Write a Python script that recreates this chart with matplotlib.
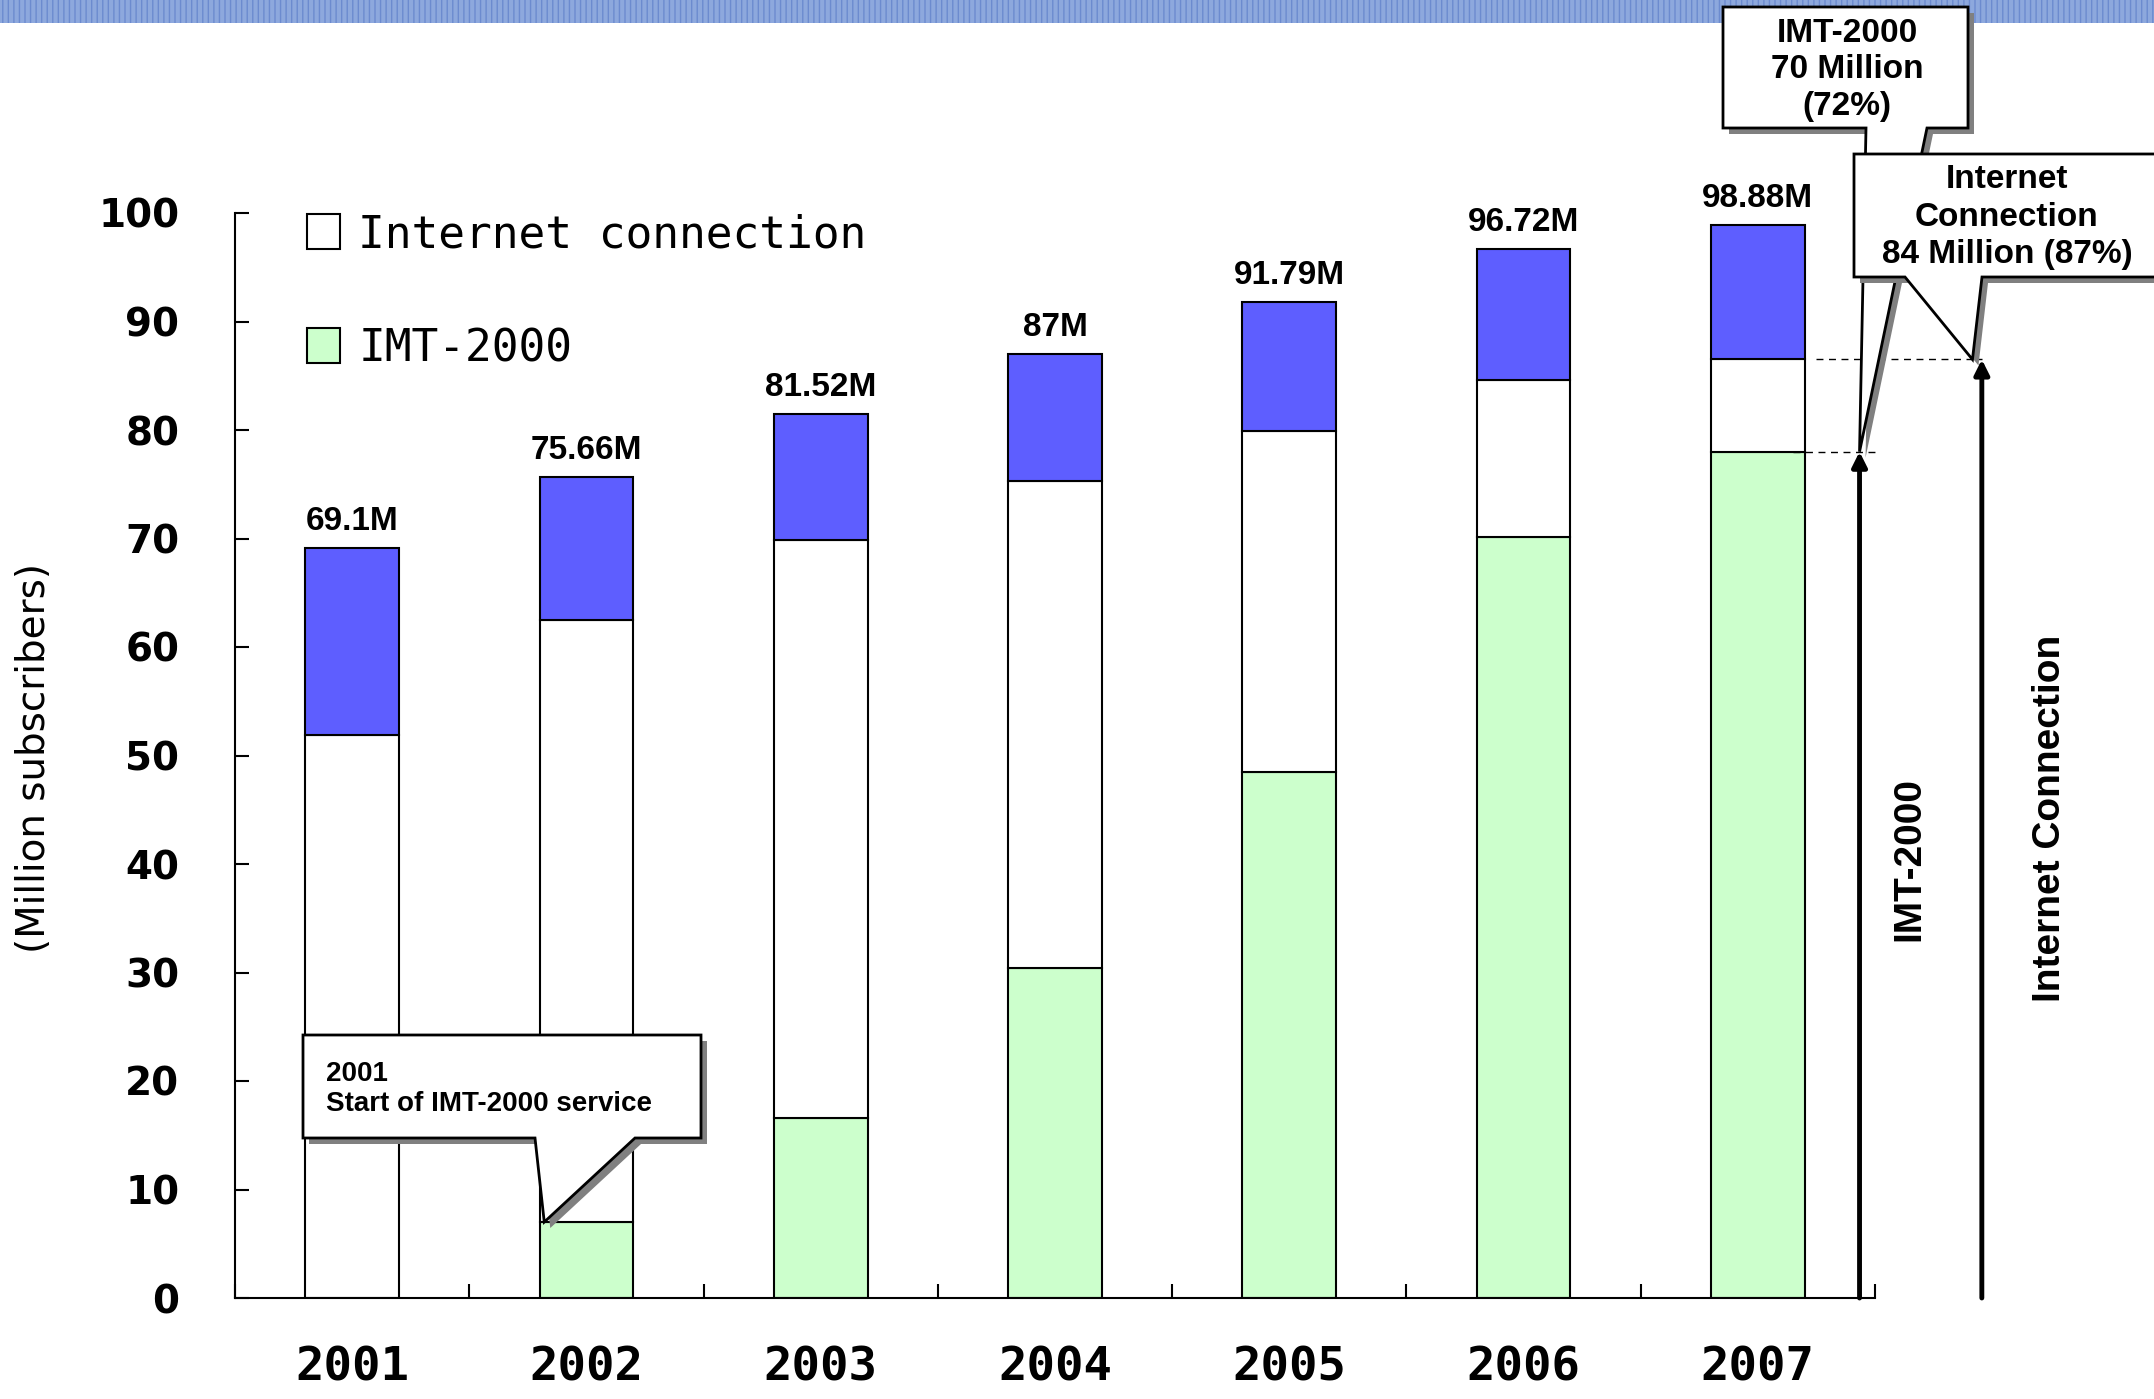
import numpy as np
import matplotlib.pyplot as plt
from matplotlib.patches import Rectangle, Polygon

# data (million subscribers)
years = ['2001', '2002', '2003', '2004', '2005', '2006', '2007']
total = [69.1, 75.66, 81.52, 87.0, 91.79, 96.72, 98.88]
internet = [51.9, 62.5, 69.9, 75.3, 79.9, 84.6, 86.5]
imt = [0.0, 7.0, 16.6, 30.4, 48.5, 70.1, 78.0]
total_labels = ['69.1M', '75.66M', '81.52M', '87M', '91.79M', '96.72M', '98.88M']

W, H = 2154, 1399
ARIAL = ['Liberation Sans', 'DejaVu Sans']


def fx(px):
    return px / W


def fy(py):
    return 1 - py / H


fig = plt.figure(figsize=(W / 100, H / 100), dpi=100)
ax = fig.add_axes([fx(235), fy(1298), 1640 / W, 1085 / H])

# banner strip at the top
fig.add_artist(Rectangle((0, fy(23)), 1, 23 / H, transform=fig.transFigure,
                         fc='#8DA8DD', ec='#6C8BCF', lw=0, hatch='|||', zorder=0))

x = np.arange(len(years))
imt_a = np.array(imt)
net_a = np.array(internet)
tot_a = np.array(total)
bw = 0.4

b_imt = ax.bar(x, imt_a, bw, color='#CCFFCC', edgecolor='black', lw=1.5)
b_net = ax.bar(x, net_a - imt_a, bw, bottom=imt_a, color='white', edgecolor='black', lw=1.5)
b_oth = ax.bar(x, tot_a - net_a, bw, bottom=net_a, color='#5E5EFF', edgecolor='black', lw=1.5)

for xi, t, lab in zip(x, total, total_labels):
    ax.text(xi, t + 1.0, lab, ha='center', va='bottom', fontsize=24,
            fontweight='bold', family=ARIAL)

ax.set_xlim(-0.5, 6.5)
ax.set_ylim(0, 100)

# axes look
for s in ['top', 'right']:
    ax.spines[s].set_visible(False)
for s in ['left', 'bottom']:
    ax.spines[s].set_linewidth(1.5)

ax.set_yticks(range(0, 101, 10))
ax.tick_params(axis='y', direction='in', length=10, width=1.5, pad=40, labelsize=28)
for lab in ax.get_yticklabels():
    lab.set_fontweight('bold')

ax.set_xticks(np.arange(-0.5, 7, 1))
ax.set_xticklabels([])
ax.set_xticks(x, minor=True)
ax.set_xticklabels(years, minor=True, fontsize=34, fontweight='bold', family='DejaVu Sans Mono')
ax.tick_params(axis='x', which='major', direction='in', length=10, width=1.5)
ax.tick_params(axis='x', which='minor', length=0, pad=34)

fig.text(fx(34), fy(758), '(Million subscribers)', rotation=90, ha='center', va='center',
         fontsize=28, family='DejaVu Sans')

ax.legend([b_net, b_imt], ['Internet connection', 'IMT-2000'], loc='upper left',
          bbox_to_anchor=(0.044, 1.0), frameon=False,
          prop={'family': 'DejaVu Sans Mono', 'size': 32},
          handlelength=0.75, handleheight=0.85, handletextpad=0.4,
          labelspacing=1.6, borderaxespad=0, borderpad=0)

# arrows and dashed guides on the right
x_imt = 6.434
x_net = 6.956
ax.annotate('', xy=(x_imt, imt[6]), xytext=(x_imt, 0), annotation_clip=False,
            arrowprops=dict(arrowstyle='-|>', lw=3.5, color='black', mutation_scale=22,
                            shrinkA=0, shrinkB=0))
ax.annotate('', xy=(x_net, internet[6]), xytext=(x_net, 0), annotation_clip=False,
            arrowprops=dict(arrowstyle='-|>', lw=3.5, color='black', mutation_scale=22,
                            shrinkA=0, shrinkB=0))
ax.plot([6.15, 6.5], [imt[6], imt[6]], ls=(0, (5, 4)), color='black', lw=1, clip_on=False)
ax.plot([6.25, x_net], [internet[6], internet[6]], ls=(0, (5, 4)), color='black', lw=1, clip_on=False)

fig.text(fx(1909), fy(859), 'IMT-2000', rotation=90, ha='center', va='center',
         fontsize=28, fontweight='bold', family=ARIAL)
fig.text(fx(2050), fy(818), 'Internet Connection', rotation=90, ha='center', va='center',
         fontsize=28, fontweight='bold', family=ARIAL)


def callout(L, R, T, B, wl, wr, tip_data, z):
    tip = fig.transFigure.inverted().transform(ax.transData.transform(tip_data))
    pts = np.array([(fx(L), fy(T)), (fx(R), fy(T)), (fx(R), fy(B)), (fx(wr), fy(B)),
                    tuple(tip), (fx(wl), fy(B)), (fx(L), fy(B))])
    shadow = pts + np.array([6 / W, -6 / H])
    fig.add_artist(Polygon(shadow, closed=True, transform=fig.transFigure,
                           fc='#808080', ec='none', zorder=z))
    fig.add_artist(Polygon(pts, closed=True, transform=fig.transFigure,
                           fc='white', ec='black', lw=2, zorder=z + 0.1))


callout(303, 701, 1035, 1138, 535, 635, (0.82, imt[1]), 5)
fig.text(fx(326), fy(1089), '2001\nStart of IMT-2000 service', ha='left', va='center',
         fontsize=20, fontweight='bold', family=ARIAL, zorder=6, linespacing=1.2)

callout(1723, 1968, 7, 128, 1866, 1927, (x_imt, imt[6]), 7)
fig.text(fx(1847), fy(70), 'IMT-2000\n70 Million\n(72%)', ha='center', va='center',
         fontsize=24, fontweight='bold', family=ARIAL, zorder=8, linespacing=1.25)

callout(1854, 2175, 154, 277, 1905, 1982, (x_net - 0.04, internet[6]), 9)
fig.text(fx(2007), fy(217), 'Internet\nConnection\n84 Million (87%)', ha='center', va='center',
         fontsize=24, fontweight='bold', family=ARIAL, zorder=10, linespacing=1.25)

plt.savefig('out.png', dpi=100)
